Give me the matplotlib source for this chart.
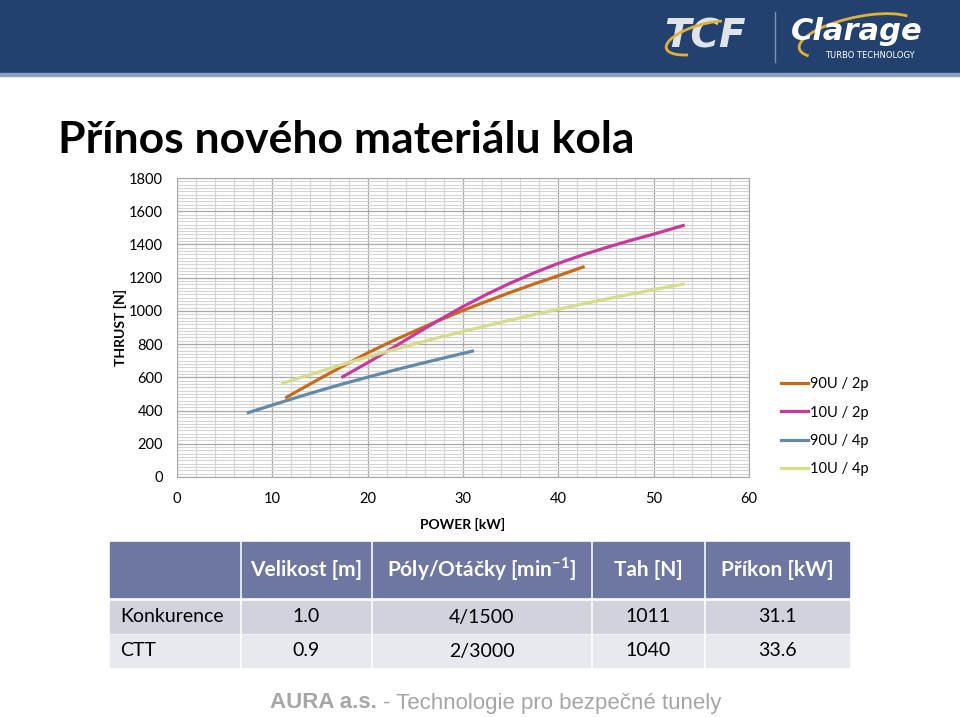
import numpy as np
import matplotlib.pyplot as plt
from matplotlib.patches import Rectangle, Arc
from matplotlib.ticker import MultipleLocator

# Data: power [kW] vs thrust [N]
power_90u_2p = [11.5, 12.5, 15, 17.5, 20, 22.5, 25, 27.5, 30, 32.5, 35, 37.5, 40, 42.6]
thrust_90u_2p = [480, 513, 593, 671, 747, 816, 880, 943, 1003, 1058, 1112, 1163, 1212, 1264]

power_10u_2p = [17.4, 20, 22.5, 25, 27.5, 30, 32.5, 35, 37.5, 40, 42.5, 45, 47.5, 50, 53.1]
thrust_10u_2p = [604, 688, 773, 860, 945, 1026, 1100, 1168, 1230, 1286, 1336, 1381, 1423, 1462, 1514]

power_90u_4p = [7.5, 10, 12.5, 15, 17.5, 20, 22.5, 25, 27.5, 31.0]
thrust_90u_4p = [388, 433, 478, 521, 562, 601, 639, 675, 710, 758]

power_10u_4p = [11.1, 12.5, 15, 17.5, 20, 22.5, 25, 27.5, 30, 32.5, 35, 37.5, 40, 42.5, 45, 47.5, 50, 53.1]
thrust_10u_4p = [564, 590, 635, 680, 723, 763, 802, 840, 876, 911, 945, 978, 1010, 1041, 1071, 1100, 1128, 1161]

series_labels = ["90U / 2p", "10U / 2p", "90U / 4p", "10U / 4p"]
series_colors = ["#c96a1b", "#c73a9b", "#6189ab", "#d5dd8a"]

x_ticks = [0, 10, 20, 30, 40, 50, 60]
y_ticks = [0, 200, 400, 600, 800, 1000, 1200, 1400, 1600, 1800]

# Tabulka pod grafem
table_header = ["", "Velikost [m]", "Póly/Otáčky [min$^{\\mathregular{-1}}$]", "Tah [N]", "Příkon [kW]"]
row_names = ["Konkurence", "CTT"]
velikost = ["1.0", "0.9"]
poly_otacky = ["4/1500", "2/3000"]
tah = ["1011", "1040"]
prikon = ["31.1", "33.6"]

FONT = "Lato"

fig = plt.figure(figsize=(9.6, 7.17), dpi=100)

# Pozadi v pixelovych souradnicich
bg = fig.add_axes([0, 0, 1, 1])
bg.set_xlim(0, 960)
bg.set_ylim(717, 0)
bg.axis("off")

# Horni pruh s logy
bg.add_patch(Rectangle((0, 0), 960, 73, color="#23416f", zorder=1))
bg.add_patch(Rectangle((0, 73), 960, 3, color="#8ea0bf", zorder=1))
bg.text(705, 37, "TCF", color="#dfe3ea", fontsize=28, fontweight="bold", style="italic",
        ha="center", va="center", family="DejaVu Sans", zorder=3)
bg.add_patch(Arc((705, 38), 80, 28, angle=-15, theta1=150, theta2=330, color="#e0b13a", lw=2, zorder=4))
bg.plot([775, 775], [12, 62], color="#7d8fb0", lw=1, zorder=3)
bg.text(857, 32, "Clarage", color="white", fontsize=22, fontweight="bold", style="italic",
        ha="center", va="center", family="DejaVu Sans", zorder=3)
bg.add_patch(Arc((858, 36), 120, 38, angle=-12, theta1=170, theta2=350, color="#e0b13a", lw=2, zorder=2))
bg.text(870, 56, "TURBO TECHNOLOGY", color="white", fontsize=6, ha="center", va="center",
        family="DejaVu Sans", zorder=3)

# Nadpis
bg.text(58, 140, "Přínos nového materiálu kola", fontsize=32, fontweight="bold", family=FONT,
        ha="left", va="center", color="black")

# Graf
ax = fig.add_axes([177 / 960, 1 - 477 / 717, 572 / 960, 299 / 717])
ax.plot(power_90u_2p, thrust_90u_2p, color=series_colors[0], lw=2.3, label=series_labels[0], zorder=3)
ax.plot(power_10u_2p, thrust_10u_2p, color=series_colors[1], lw=2.3, label=series_labels[1], zorder=3)
ax.plot(power_90u_4p, thrust_90u_4p, color=series_colors[2], lw=2.3, label=series_labels[2], zorder=3)
ax.plot(power_10u_4p, thrust_10u_4p, color=series_colors[3], lw=2.3, label=series_labels[3], zorder=3)

ax.set_xlim(0, 60)
ax.set_ylim(0, 1800)
ax.set_xticks(x_ticks)
ax.set_yticks(y_ticks)
ax.xaxis.set_minor_locator(MultipleLocator(2))
ax.yaxis.set_minor_locator(MultipleLocator(20))
ax.grid(which="major", color="#a8a8a8", lw=0.9)
ax.grid(which="minor", color="#d4d4d4", lw=0.8)
ax.set_axisbelow(True)
ax.tick_params(which="both", length=0)
ax.tick_params(axis="x", pad=11, labelsize=10.5)
ax.tick_params(axis="y", pad=10, labelsize=10.5)
for lab in ax.get_xticklabels() + ax.get_yticklabels():
    lab.set_family(FONT)
for sp in ax.spines.values():
    sp.set_color("#a8a8a8")

ax.set_xlabel("POWER [kW]", fontsize=10, fontweight="bold", family=FONT, va="center")
ax.xaxis.set_label_coords(0.5, (477 - 524) / 299)
ax.set_ylabel("THRUST [N]", fontsize=10, fontweight="bold", family=FONT, va="center")
ax.yaxis.set_label_coords((120 - 177) / 572, 0.5)

ax.legend(loc="upper left", bbox_to_anchor=(774 / 960, 1 - 370 / 717), bbox_transform=fig.transFigure,
          frameon=False, handlelength=1.85, handletextpad=0.15, labelspacing=0.98, borderpad=0,
          prop={"family": FONT, "size": 10.5})

# Tabulka
col_edges = [110, 242, 373, 593, 706, 849]
header_top, header_bot = 542, 597
row_tops = [601, 635]
row_h = 32
gap = 3
bg.add_patch(Rectangle((col_edges[0], header_top), col_edges[1] - col_edges[0] - gap, header_bot - header_top,
                       color="#6e77a1", zorder=1))
for i in range(1, 5):
    x0 = col_edges[i]
    w = col_edges[i + 1] - x0 - (gap if i < 4 else 0)
    bg.add_patch(Rectangle((x0, header_top), w, header_bot - header_top, color="#6e77a1", zorder=1))
    bg.text(x0 + w / 2, (header_top + header_bot) / 2, table_header[i], color="white", fontsize=15,
            fontweight="bold", family=FONT, ha="center", va="center")

row_colors = ["#d0d3dc", "#e8e9ee"]
for r, name in enumerate(row_names):
    y0 = row_tops[r]
    values = [velikost[r], poly_otacky[r], tah[r], prikon[r]]
    for i in range(5):
        x0 = col_edges[i]
        w = col_edges[i + 1] - x0 - (gap if i < 4 else 0)
        bg.add_patch(Rectangle((x0, y0), w, row_h, color=row_colors[r], zorder=1))
        if i == 0:
            bg.text(x0 + 10, y0 + row_h / 2, name, fontsize=14, family=FONT, ha="left", va="center")
        else:
            bg.text(x0 + w / 2, y0 + row_h / 2, values[i - 1], fontsize=14, family=FONT,
                    ha="center", va="center")

# Paticka - tucna cast a hned za ni zbytek
t1 = bg.text(270, 703, "AURA a.s.", color="#a6a6a6", fontsize=16, fontweight="bold",
             family="Liberation Sans", ha="left", va="center")
fig.canvas.draw()
bb = t1.get_window_extent(renderer=fig.canvas.get_renderer())
x_end = bb.x1 + 6  # pixely, osa bg ma 1:1
bg.text(x_end, 703, "- Technologie pro bezpečné tunely", color="#a6a6a6", fontsize=16,
        family="Liberation Sans", ha="left", va="center")

fig.savefig("out.png", dpi=100)
